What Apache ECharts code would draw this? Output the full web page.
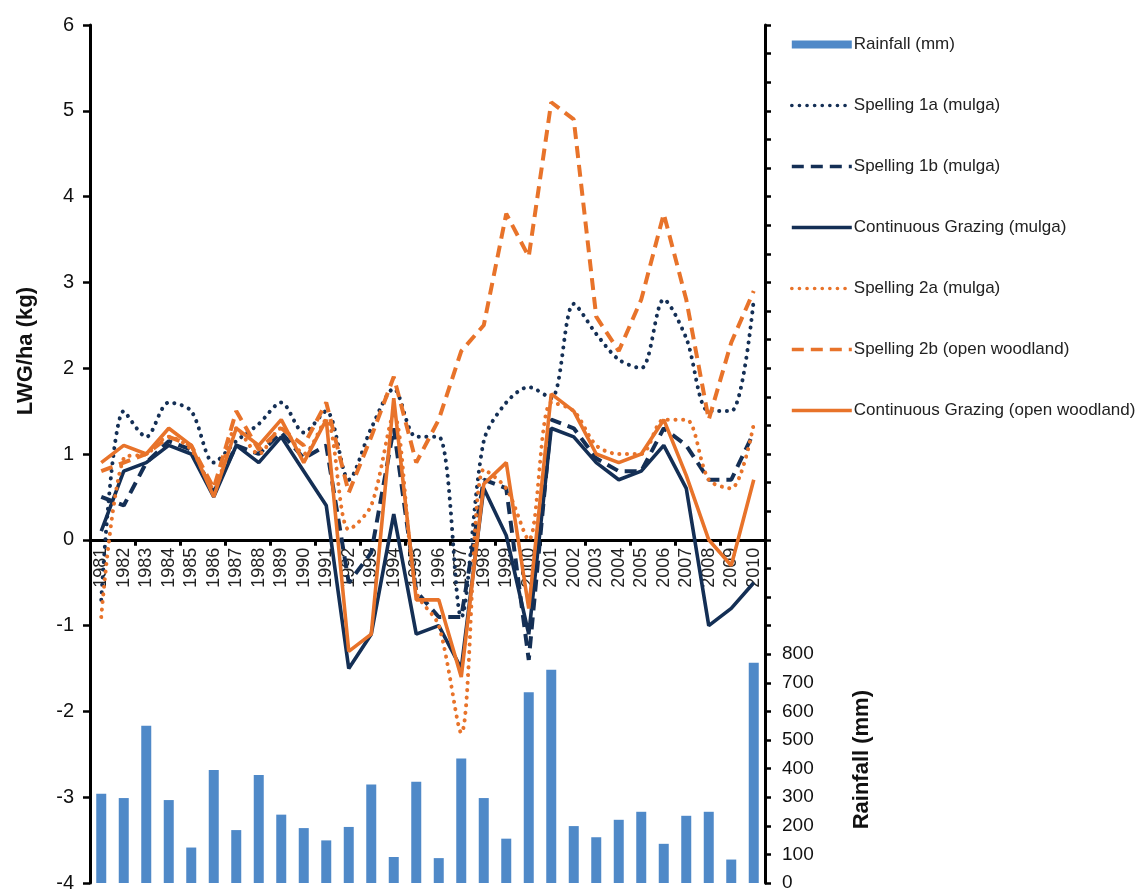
<!DOCTYPE html>
<html>
<head>
<meta charset="utf-8">
<script src="https://cdn.jsdelivr.net/npm/echarts@6/dist/echarts.min.js"></script>
<style>
  html, body { margin: 0; padding: 0; background: #fff; }
  #chart { width: 1139px; height: 890px; }
</style>
</head>
<body>
<div id="chart"></div>
<script>
// Seasons (x categories)
const years = ['1981','1982','1983','1984','1985','1986','1987','1988','1989','1990',
               '1991','1992','1993','1994','1995','1996','1997','1998','1999','2000',
               '2001','2002','2003','2004','2005','2006','2007','2008','2009','2010'];

// Annual rainfall, mm (right axis)
const rainfall = [312, 297, 550, 290, 124, 395, 185, 378, 239, 192,
                  149, 196, 344, 91, 354, 87, 435, 297, 155, 667,
                  746, 199, 160, 221, 249, 137, 235, 249, 82, 770];

// Liveweight gain per hectare, kg (left axis)
const spelling1a = [-0.7, 1.5, 1.2, 1.6, 1.5, 0.9, 1.15, 1.35, 1.6, 1.25,
                    1.5, 0.7, 1.3, 1.76, 1.2, 1.2, -0.9, 1.15, 1.6, 1.78,
                    1.65, 2.75, 2.4, 2.1, 2.0, 2.8, 2.35, 1.5, 1.5, 2.8];
const spelling1b = [0.5, 0.4, 0.9, 1.15, 1.05, 0.55, 1.1, 1.0, 1.25, 0.95,
                    1.1, -0.5, -0.15, 1.3, -0.6, -0.9, -0.9, 0.7, 0.6, -1.4,
                    1.4, 1.3, 0.95, 0.8, 0.8, 1.3, 1.1, 0.7, 0.7, 1.25];
const contMulga = [0.1, 0.8, 0.9, 1.1, 1.0, 0.5, 1.1, 0.9, 1.2, 0.8,
                   0.4, -1.5, -1.1, 0.3, -1.1, -1.0, -1.5, 0.6, 0.05, -1.1,
                   1.3, 1.2, 0.9, 0.7, 0.8, 1.1, 0.6, -1.0, -0.8, -0.5];
const spelling2a = [-0.9, 0.95, 1.0, 1.2, 1.05, 0.6, 1.3, 1.0, 1.3, 1.0,
                    1.4, 0.12, 0.4, 1.45, -0.6, -1.0, -2.25, 0.82, 0.6, 0.0,
                    1.6, 1.5, 1.1, 1.0, 1.0, 1.4, 1.4, 0.7, 0.6, 1.35];
const spelling2b = [0.8, 0.9, 1.0, 1.2, 1.1, 0.6, 1.5, 1.05, 1.3, 1.1,
                    1.6, 0.55, 1.2, 1.9, 0.9, 1.4, 2.2, 2.5, 3.8, 3.3,
                    5.1, 4.9, 2.6, 2.2, 2.8, 3.8, 2.8, 1.4, 2.3, 2.9];
const contWoodland = [0.9, 1.1, 1.0, 1.3, 1.1, 0.5, 1.3, 1.1, 1.4, 0.9,
                      1.4, -1.3, -1.1, 1.65, -0.7, -0.7, -1.6, 0.65, 0.9, -0.8,
                      1.7, 1.5, 1.0, 0.9, 1.0, 1.4, 0.75, 0.0, -0.3, 0.7];

// Axis tick values
const lwgTicks = { min: -4, max: 6, step: 1 };
const rainTicks = { min: 0, max: 3000, step: 100, labelMax: 800 };

const NAVY = '#142f55';
const ORANGE = '#e8732a';
const BLUE = '#4f89c8';
const FONT = 'Liberation Sans, Arial, sans-serif';

// Plot box in pixels
const GRID = { left: 90, right: 374, top: 25, bottom: 7 };
const CHART_H = 890;
const plotH = CHART_H - GRID.top - GRID.bottom;
// Distance from the plot bottom up to the zero line of the left axis
const zeroFromBottom = plotH * (0 - lwgTicks.min) / (lwgTicks.max - lwgTicks.min);

const dotted = (color) => ({ color, width: 4, type: [0.1, 7.5], cap: 'round' });
const dashed = (color) => ({ color, width: 4, type: [12, 7], cap: 'butt' });
const solid = (color) => ({ color, width: 3.6, type: 'solid' });

function lineSeries(name, data, style, smooth) {
  return {
    name, type: 'line', yAxisIndex: 0, data,
    symbol: 'none', smooth: smooth ? 0.3 : false,
    lineStyle: style, itemStyle: { color: style.color },
    z: 3
  };
}

const legendLine = (name) => ({ name, itemStyle: { opacity: 0 } });

const chart = echarts.init(document.getElementById('chart'), null, { renderer: 'canvas' });

chart.setOption({
  backgroundColor: '#fff',
  animation: false,
  textStyle: { fontFamily: FONT },
  grid: {
    left: GRID.left, right: GRID.right, top: GRID.top, bottom: GRID.bottom,
    containLabel: false, outerBoundsMode: 'none'
  },
  legend: {
    orient: 'vertical',
    left: 785, top: 31,
    itemWidth: 60, itemHeight: 8, itemGap: 44,
    lineStyle: { width: 3.6 },
    textStyle: { fontSize: 17, color: '#222', fontFamily: FONT, padding: [0, 0, 0, -3] },
    data: [
      { name: 'Rainfall (mm)', icon: 'rect' },
      legendLine('Spelling 1a (mulga)'),
      legendLine('Spelling 1b (mulga)'),
      legendLine('Continuous Grazing (mulga)'),
      legendLine('Spelling 2a (mulga)'),
      legendLine('Spelling 2b (open woodland)'),
      legendLine('Continuous Grazing (open woodland)')
    ]
  },
  xAxis: [
    {
      type: 'category',
      data: years,
      boundaryGap: true,
      axisLine: { show: true, onZero: true, onZeroAxisIndex: 0, lineStyle: { color: '#000', width: 3 } },
      axisTick: { show: true, length: 6, lineStyle: { color: '#000', width: 3 } },
      axisLabel: { show: false },
      splitLine: { show: false }
    },
    {
      // year labels hanging just below the zero line
      type: 'category',
      data: years,
      boundaryGap: true,
      position: 'bottom',
      offset: -zeroFromBottom,
      axisLine: { show: false, onZero: false },
      axisTick: { show: false },
      axisLabel: { interval: 0, rotate: 90, fontSize: 18, color: '#222', margin: 8, fontFamily: FONT },
      splitLine: { show: false }
    }
  ],
  yAxis: [
    {
      type: 'value', position: 'left',
      min: lwgTicks.min, max: lwgTicks.max, interval: lwgTicks.step,
      axisLine: { show: true, onZero: false, lineStyle: { color: '#000', width: 3 } },
      axisTick: { show: true, length: 7, lineStyle: { color: '#000', width: 2.5 } },
      axisLabel: { fontSize: 20, color: '#111', margin: 16, fontFamily: FONT },
      splitLine: { show: false }
    },
    {
      type: 'value', position: 'right',
      min: rainTicks.min, max: rainTicks.max, interval: rainTicks.step,
      axisLine: { show: true, onZero: false, lineStyle: { color: '#000', width: 3 } },
      axisTick: { show: true, length: 6, lineStyle: { color: '#000', width: 2.5 } },
      axisLabel: {
        fontSize: 19, color: '#111', margin: 17, fontFamily: FONT,
        formatter: (v) => (v <= rainTicks.labelMax ? String(v) : '')
      },
      splitLine: { show: false }
    }
  ],
  graphic: [
    {
      type: 'text', left: 15, top: 287,
      rotation: Math.PI / 2,
      style: { text: 'LWG/ha (kg)', font: 'bold 22px ' + FONT, fill: '#111' }
    },
    {
      type: 'text', left: 851, top: 690,
      rotation: Math.PI / 2,
      style: { text: 'Rainfall (mm)', font: 'bold 22px ' + FONT, fill: '#111' }
    }
  ],
  series: [
    {
      name: 'Rainfall (mm)', type: 'bar', yAxisIndex: 1, data: rainfall,
      barWidth: 10, itemStyle: { color: BLUE }, z: 2
    },
    lineSeries('Spelling 1a (mulga)', spelling1a, dotted(NAVY), true),
    lineSeries('Spelling 1b (mulga)', spelling1b, dashed(NAVY), false),
    lineSeries('Continuous Grazing (mulga)', contMulga, solid(NAVY), false),
    lineSeries('Spelling 2a (mulga)', spelling2a, dotted(ORANGE), true),
    lineSeries('Spelling 2b (open woodland)', spelling2b, dashed(ORANGE), false),
    lineSeries('Continuous Grazing (open woodland)', contWoodland, solid(ORANGE), false)
  ]
});
</script>
</body>
</html>
